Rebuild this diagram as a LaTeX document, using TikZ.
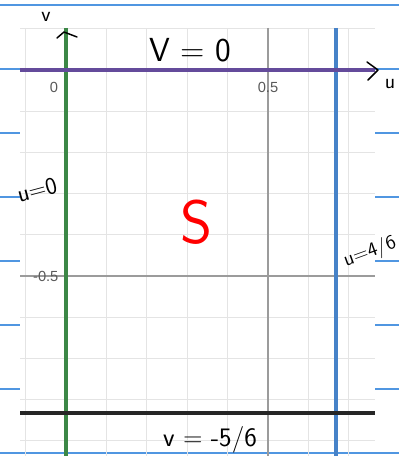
\documentclass[tikz,border=0pt]{standalone}
\usepackage{fontspec}
\newfontfamily\tickfont{Liberation Sans}
\definecolor{rulecol}{RGB}{80,150,225}
\definecolor{gridcol}{RGB}{228,228,228}
\definecolor{axiscol}{RGB}{155,155,155}
\definecolor{ugreen}{RGB}{60,135,70}
\definecolor{vpurple}{RGB}{100,75,155}
\definecolor{ublue}{RGB}{70,130,200}
\begin{document}
\begin{tikzpicture}[x=0.75pt,y=-0.75pt,
  hand/.style={font=\sffamily\fontsize{16}{16}\selectfont,inner sep=1pt},
  ticklab/.style={font=\tickfont\fontsize{11}{11}\selectfont,text=black!65,inner sep=1pt},
  stroke/.style={line width=1.1pt,line cap=round,line join=round}]
  \useasboundingbox (0,0) rectangle (399,456);
  % notebook rules
  \draw[rulecol,line width=0.9pt] (0,5) -- (399,5);
  \draw[rulecol,line width=0.9pt] (0,453) -- (399,453);
  \foreach \y in {69,133,197,261,325,389} {
    \draw[rulecol,line width=0.9pt] (0,\y) -- (20,\y);
    \draw[rulecol,line width=0.9pt] (375,\y) -- (399,\y);
  }
  % grid
  \foreach \i in {-1,...,7}
    \draw[gridcol,line width=0.8pt] ({66+40.4*\i},28) -- ({66+40.4*\i},456);
  \foreach \j in {-1,...,9}
    \draw[gridcol,line width=0.8pt] (20,{70+41.2*\j}) -- (375,{70+41.2*\j});
  \draw[axiscol,line width=0.8pt] (268,28) -- (268,456);
  \draw[axiscol,line width=0.8pt] (20,276) -- (375,276);
  \node[ticklab] (t0) at (54,87) {0};
  \node[ticklab] (t05) at (268,87) {0.5};
  \node[ticklab,anchor=east] (tm05) at (60,276) {-0.5};
  % boundary lines
  \coordinate (uT) at (66,28);  \coordinate (uB) at (66,456);
  \coordinate (wT) at (336,28); \coordinate (wB) at (336,456);
  \coordinate (vL) at (20,70);  \coordinate (vR) at (375,70);
  \coordinate (bL) at (20,413); \coordinate (bR) at (375,413);
  \draw[ugreen,line width=2.4pt] (uT) -- (uB);
  \draw[ublue,line width=2.4pt] (wT) -- (wB);
  \draw[black!85,line width=2.8pt] (bL) -- (bR);
  \draw[vpurple,line width=3pt] (vL) -- (vR);
  % hand written arrows
  \draw[stroke] (57,38) -- (64,32) -- (77,37);
  \draw[stroke] (367,62) -- (378,70) -- (368,80);
  \node[hand] (vlab) at (46,17) {v};
  \node[hand] (ulab) at (390,84) {u};
  \node[hand,font=\sffamily\fontsize{25}{25}\selectfont] (v0) at (190,50) {V = 0};
  \node[hand,font=\sffamily\fontsize{18}{18}\selectfont,rotate=15] (u0) at (37,190) {u=0};
  \node[hand,font=\sffamily\fontsize{15}{15}\selectfont,rotate=20] (u46) at (370,252) {u=4/6};
  \node[hand,font=\sffamily\fontsize{20}{20}\selectfont] (v56) at (210,440) {v = -5/6};
  \node[hand,red,font=\sffamily\fontsize{46}{46}\selectfont] (S) at (197,222) {S};
\end{tikzpicture}
\end{document}
